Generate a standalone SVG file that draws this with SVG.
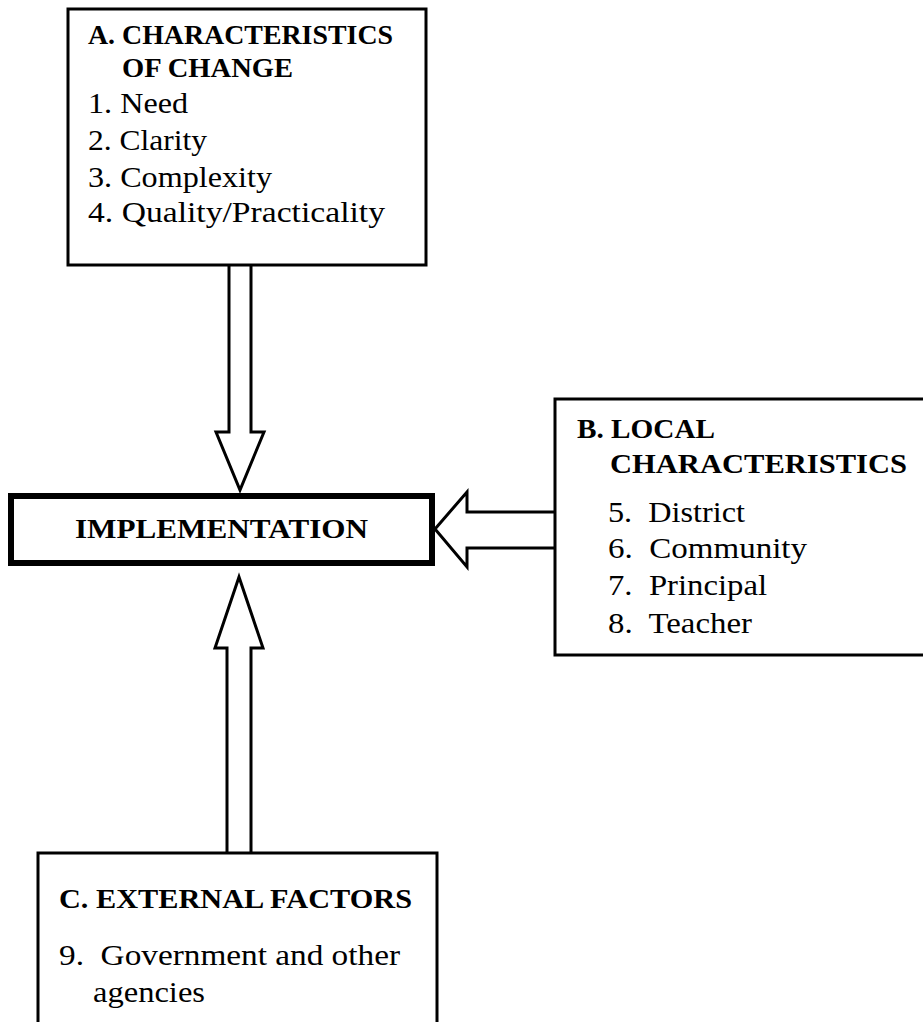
<svg xmlns="http://www.w3.org/2000/svg" width="923" height="1022" viewBox="0 0 923 1022">
<style>
.box{fill:#fff;stroke:#000;stroke-width:3}
.impl{fill:#fff;stroke:#000;stroke-width:6}
.arrow{fill:#fff;stroke:#000;stroke-width:3;stroke-linejoin:miter}
text{font-family:"Liberation Serif","Times New Roman",serif;font-size:29px;fill:#000}
.b{font-weight:bold;font-size:28px}
</style>
<rect width="923" height="1022" fill="#fff"/>
<g id="connectors">
<polygon class="arrow" points="229,262 229,432 216,432 240,490 264,432 251,432 251,262"/>
<polygon class="arrow" points="227,856 227,648 215,648 239,577 263,648 251,648 251,856"/>
<polygon class="arrow" points="558,512 467,512 467,492 435,529 467,567 467,548 558,548"/>
</g>
<g id="nodeA">
<rect class="box" x="68" y="9" width="358" height="256"/>
<text class="b" x="88" y="44" textLength="305" lengthAdjust="spacingAndGlyphs">A. CHARACTERISTICS</text>
<text class="b" x="122" y="77" textLength="171" lengthAdjust="spacingAndGlyphs">OF CHANGE</text>
<text x="88" y="113" textLength="100" lengthAdjust="spacingAndGlyphs">1. Need</text>
<text x="88" y="150" textLength="119" lengthAdjust="spacingAndGlyphs">2. Clarity</text>
<text x="88" y="187" textLength="184" lengthAdjust="spacingAndGlyphs">3. Complexity</text>
<text x="88" y="222" textLength="297" lengthAdjust="spacingAndGlyphs">4. Quality/Practicality</text>
</g>
<g id="implementation">
<rect class="impl" x="11" y="496" width="421" height="67"/>
<text class="b" x="75" y="538" textLength="293" lengthAdjust="spacingAndGlyphs">IMPLEMENTATION</text>
</g>
<g id="nodeB">
<rect class="box" x="555" y="399" width="400" height="256"/>
<text class="b" x="577" y="438" textLength="138" lengthAdjust="spacingAndGlyphs">B. LOCAL</text>
<text class="b" x="610" y="473" textLength="297" lengthAdjust="spacingAndGlyphs">CHARACTERISTICS</text>
<text x="608" y="522" textLength="137" lengthAdjust="spacingAndGlyphs" xml:space="preserve">5.  District</text>
<text x="608" y="558" textLength="199" lengthAdjust="spacingAndGlyphs" xml:space="preserve">6.  Community</text>
<text x="608" y="595" textLength="159" lengthAdjust="spacingAndGlyphs" xml:space="preserve">7.  Principal</text>
<text x="608" y="633" textLength="144" lengthAdjust="spacingAndGlyphs" xml:space="preserve">8.  Teacher</text>
</g>
<g id="nodeC">
<rect class="box" x="38" y="853" width="399" height="200"/>
<text class="b" x="59" y="908" textLength="353" lengthAdjust="spacingAndGlyphs">C. EXTERNAL FACTORS</text>
<text x="59" y="965" textLength="341" lengthAdjust="spacingAndGlyphs" xml:space="preserve">9.  Government and other</text>
<text x="93" y="1002" textLength="112" lengthAdjust="spacingAndGlyphs">agencies</text>
</g>
</svg>
